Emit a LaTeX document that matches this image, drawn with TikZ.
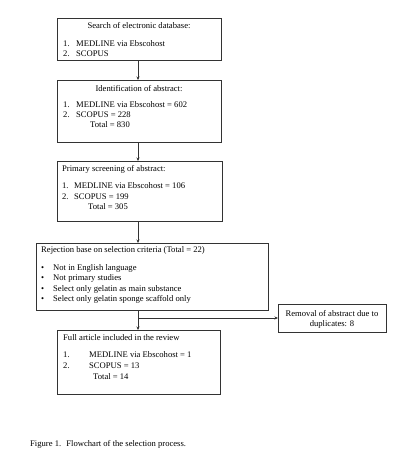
\documentclass[tikz,border=0pt]{standalone}
\usepackage{fontspec}
\setmainfont{Liberation Serif}
\usetikzlibrary{arrows.meta}
\begin{document}
\begin{tikzpicture}[x=1pt,y=-1pt,
  box/.style={draw=black!80, line width=0.6pt, rectangle, inner sep=0pt, anchor=north west},
  txt/.style={inner sep=0pt, anchor=base west, font=\fontsize{8.6}{10}\selectfont},
  ctxt/.style={inner sep=0pt, anchor=base, font=\fontsize{8.6}{10}\selectfont},
  conn/.style={draw=black!80, line width=0.6pt},
  arr/.style={conn, -{Stealth[length=3.5pt,width=3pt]}}]
\useasboundingbox (0,0) rectangle (400,464);
% boxes
\node[box, minimum width=164, minimum height=42] (b1) at (57,18) {};
\node[box, minimum width=164, minimum height=62] (b2) at (57,80) {};
\node[box, minimum width=165, minimum height=60] (b3) at (57,161) {};
\node[box, minimum width=232, minimum height=67] (b4) at (36,243) {};
\node[box, minimum width=108, minimum height=28] (b6) at (278,304) {};
\node[box, minimum width=163, minimum height=64] (b5) at (57,330) {};
% box 1
\node[ctxt] (t1) at (139,28) {Search of electronic database:};
\node[txt] (t1a) at (63,46) {1.}; \node[txt] (t1b) at (76,46) {MEDLINE via Ebscohost};
\node[txt] (t1c) at (63,56) {2.}; \node[txt] (t1d) at (76,56) {SCOPUS};
% box 2
\node[ctxt] (t2) at (139,91) {Identification of abstract:};
\node[txt] (t2a) at (63,107) {1.}; \node[txt] (t2b) at (76,107) {MEDLINE via Ebscohost = 602};
\node[txt] (t2c) at (63,117) {2.}; \node[txt] (t2d) at (76,117) {SCOPUS = 228};
\node[txt] (t2e) at (90,127) {Total = 830};
% box 3
\node[txt] (t3) at (62,171) {Primary screening of abstract:};
\node[txt] (t3a) at (62,188) {1.}; \node[txt] (t3b) at (74,188) {MEDLINE via Ebscohost = 106};
\node[txt] (t3c) at (62,199) {2.}; \node[txt] (t3d) at (74,199) {SCOPUS = 199};
\node[txt] (t3e) at (88,209) {Total = 305};
% box 4
\node[txt] (t4) at (41,252) {Rejection base on selection criteria (Total = 22)};
\node[txt] (t4a) at (41,270) {\textbullet}; \node[txt] (t4b) at (53,270) {Not in English language};
\node[txt] (t4c) at (41,280) {\textbullet}; \node[txt] (t4d) at (53,280) {Not primary studies};
\node[txt] (t4e) at (41,291) {\textbullet}; \node[txt] (t4f) at (53,291) {Select only gelatin as main substance};
\node[txt] (t4g) at (41,301) {\textbullet}; \node[txt] (t4h) at (53,301) {Select only gelatin sponge scaffold only};
% removal box
\node[ctxt] (t6a) at (332,316) {Removal of abstract due to};
\node[ctxt] (t6b) at (332,326) {duplicates: 8};
% box 5
\node[txt] (t5) at (63,340) {Full article included in the review};
\node[txt] (t5a) at (63,357) {1.}; \node[txt] (t5b) at (89,357) {MEDLINE via Ebscohost = 1};
\node[txt] (t5c) at (63,368) {2.}; \node[txt] (t5d) at (89,368) {SCOPUS = 13};
\node[txt] (t5e) at (93,379) {Total = 14};
% caption
\node[txt] (cap) at (30,446) {Figure 1.\hspace{0.6em}Flowchart of the selection process.};
% connectors
\coordinate (j) at (138,318);
\draw[arr] (b1.south -| j) -- (b2.north -| j);
\draw[arr] (b2.south -| j) -- (b3.north -| j);
\draw[arr] (b3.south -| j) -- (b4.north -| j);
\draw[arr] (b4.south -| j) -- (b5.north -| j);
\draw[arr] (j) -- (b6.west |- j);
\end{tikzpicture}
\end{document}
